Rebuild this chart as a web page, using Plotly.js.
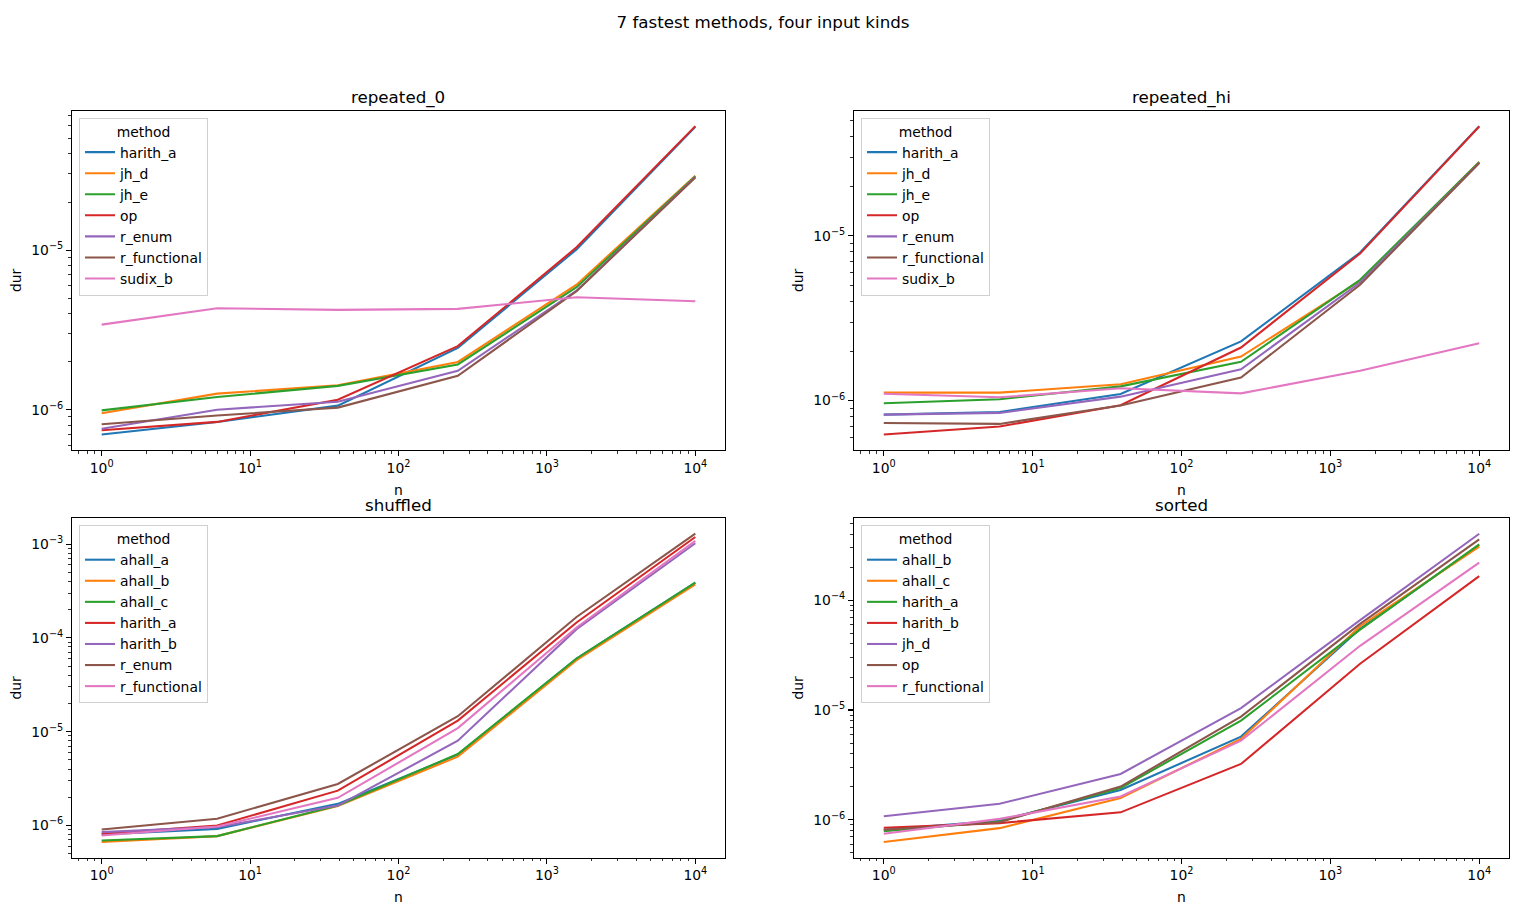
<!DOCTYPE html>
<html>
<head>
<meta charset="utf-8">
<script src="https://cdn.plot.ly/plotly-3.0.1.min.js"></script>
<style>html,body{margin:0;padding:0;background:#fff;}</style>
</head>
<body>
<div id="chart" style="width:1526px;height:915px;"></div>
<script>
// ---------------- data ----------------
const n = [1, 6, 39, 251, 1584, 10000];

const xTickVals = [1, 10, 100, 1000, 10000];
const xTickText = ['10<sup>0</sup>', '10<sup>1</sup>', '10<sup>2</sup>', '10<sup>3</sup>', '10<sup>4</sup>'];

const panelTitles = ['repeated_0', 'repeated_hi', 'shuffled', 'sorted'];

// repeated_0
const rep0Methods = ['harith_a', 'jh_d', 'jh_e', 'op', 'r_enum', 'r_functional', 'sudix_b'];
const rep0_harith_a     = [6.98e-7, 8.38e-7, 1.06e-6, 2.44e-6, 1.01e-5, 5.93e-5];
const rep0_jh_d         = [9.5e-7, 1.26e-6, 1.42e-6, 1.99e-6, 6.07e-6, 2.92e-5];
const rep0_jh_e         = [9.9e-7, 1.20e-6, 1.41e-6, 1.92e-6, 5.85e-6, 2.90e-5];
const rep0_op           = [7.43e-7, 8.38e-7, 1.155e-6, 2.50e-6, 1.04e-5, 5.98e-5];
const rep0_r_enum       = [7.6e-7, 1.00e-6, 1.12e-6, 1.75e-6, 5.57e-6, 2.87e-5];
const rep0_r_functional = [8.1e-7, 9.2e-7, 1.03e-6, 1.63e-6, 5.52e-6, 2.85e-5];
const rep0_sudix_b      = [3.41e-6, 4.32e-6, 4.22e-6, 4.28e-6, 5.06e-6, 4.78e-6];

// repeated_hi
const repHiMethods = ['harith_a', 'jh_d', 'jh_e', 'op', 'r_enum', 'r_functional', 'sudix_b'];
const repHi_harith_a     = [8.22e-7, 8.53e-7, 1.097e-6, 2.29e-6, 7.92e-6, 4.64e-5];
const repHi_jh_d         = [1.118e-6, 1.118e-6, 1.256e-6, 1.85e-6, 5.34e-6, 2.81e-5];
const repHi_jh_e         = [9.63e-7, 1.02e-6, 1.22e-6, 1.72e-6, 5.41e-6, 2.81e-5];
const repHi_op           = [6.22e-7, 6.96e-7, 9.37e-7, 2.10e-6, 7.81e-6, 4.62e-5];
const repHi_r_enum       = [8.22e-7, 8.42e-7, 1.057e-6, 1.55e-6, 5.21e-6, 2.77e-5];
const repHi_r_functional = [7.32e-7, 7.22e-7, 9.33e-7, 1.38e-6, 5.05e-6, 2.77e-5];
const repHi_sudix_b      = [1.10e-6, 1.047e-6, 1.19e-6, 1.107e-6, 1.52e-6, 2.23e-6];

// shuffled
const shufMethods = ['ahall_a', 'ahall_b', 'ahall_c', 'harith_a', 'harith_b', 'r_enum', 'r_functional'];
const shuf_ahall_a      = [8.0e-7, 9.2e-7, 1.70e-6, 5.69e-6, 6.03e-5, 3.88e-4];
const shuf_ahall_b      = [6.65e-7, 7.7e-7, 1.61e-6, 5.42e-6, 5.78e-5, 3.73e-4];
const shuf_ahall_c      = [6.92e-7, 7.7e-7, 1.63e-6, 5.78e-6, 6.03e-5, 3.88e-4];
const shuf_harith_a     = [8.16e-7, 1.00e-6, 2.35e-6, 1.31e-5, 1.46e-4, 1.19e-3];
const shuf_harith_b     = [8.49e-7, 9.6e-7, 1.63e-6, 8.0e-6, 1.24e-4, 1.02e-3];
const shuf_r_enum       = [9.07e-7, 1.18e-6, 2.77e-6, 1.46e-5, 1.67e-4, 1.29e-3];
const shuf_r_functional = [7.83e-7, 9.75e-7, 1.97e-6, 1.09e-5, 1.29e-4, 1.08e-3];

// sorted
const sortMethods = ['ahall_b', 'ahall_c', 'harith_a', 'harith_b', 'jh_d', 'op', 'r_functional'];
const sort_ahall_b      = [8.11e-7, 9.86e-7, 1.87e-6, 5.73e-6, 5.5e-5, 3.19e-4];
const sort_ahall_c      = [6.27e-7, 8.4e-7, 1.58e-6, 5.45e-6, 5.8e-5, 3.08e-4];
const sort_harith_a     = [7.88e-7, 9.66e-7, 1.95e-6, 8.0e-6, 5.4e-5, 3.23e-4];
const sort_harith_b     = [8.46e-7, 9.33e-7, 1.17e-6, 3.23e-6, 2.64e-5, 1.66e-4];
const sort_jh_d         = [1.08e-6, 1.40e-6, 2.62e-6, 1.04e-5, 6.6e-5, 4.04e-4];
const sort_op           = [8.11e-7, 9.52e-7, 2.01e-6, 8.7e-6, 6.1e-5, 3.59e-4];
const sort_r_functional = [7.46e-7, 1.02e-6, 1.63e-6, 5.26e-6, 3.85e-5, 2.2e-4];

const colors = ['#1f77b4', '#ff7f0e', '#2ca02c', '#d62728', '#9467bd', '#8c564b', '#e377c2'];

const panelMethods = [rep0Methods, repHiMethods, shufMethods, sortMethods];
const panelSeries = [
  [rep0_harith_a, rep0_jh_d, rep0_jh_e, rep0_op, rep0_r_enum, rep0_r_functional, rep0_sudix_b],
  [repHi_harith_a, repHi_jh_d, repHi_jh_e, repHi_op, repHi_r_enum, repHi_r_functional, repHi_sudix_b],
  [shuf_ahall_a, shuf_ahall_b, shuf_ahall_c, shuf_harith_a, shuf_harith_b, shuf_r_enum, shuf_r_functional],
  [sort_ahall_b, sort_ahall_c, sort_harith_a, sort_harith_b, sort_jh_d, sort_op, sort_r_functional]
];

// ---------------- layout geometry (pixels) ----------------
const W = 1526, H = 915;
const cols = [[72, 725], [854, 1509]];
const rows = [[110.7, 450], [518.3, 857.5]];
const FONT = 'DejaVu Sans, Verdana, sans-serif';

function px2x(p) { return p / W; }
function px2y(p) { return 1 - p / H; }

function sup(k) {
  const s = k < 0 ? '\u2212' + Math.abs(k) : String(k);
  return '10<sup>' + s + '</sup>';
}

const traces = [];
const layout = {
  width: W, height: H,
  margin: {l: 0, r: 0, t: 0, b: 0},
  paper_bgcolor: '#ffffff', plot_bgcolor: '#ffffff',
  font: {family: FONT, size: 13.9, color: '#000'},
  showlegend: true,
  title: {text: '7 fastest methods, four input kinds', x: 0.5, xanchor: 'center',
          y: px2y(22), yanchor: 'middle', yref: 'container',
          font: {family: FONT, size: 16.7, color: '#000'}},
  annotations: []
};

function minorVals(lo, hi) {
  const v = [];
  for (let k = Math.floor(lo) - 1; k <= Math.ceil(hi) + 1; k++) {
    for (let m = 2; m <= 9; m++) {
      const val = m * Math.pow(10, k);
      const lv = Math.log10(val);
      if (lv > lo && lv < hi) v.push(val);
    }
  }
  return v;
}

for (let p = 0; p < 4; p++) {
  const r = Math.floor(p / 2), c = p % 2;
  const idx = p + 1;
  const xa = 'xaxis' + (idx === 1 ? '' : idx);
  const ya = 'yaxis' + (idx === 1 ? '' : idx);
  const xr = 'x' + (idx === 1 ? '' : idx);
  const yr = 'y' + (idx === 1 ? '' : idx);
  const lg = 'legend' + (idx === 1 ? '' : idx);

  // y range from data with 5% log margins (like matplotlib autoscale)
  let lmin = Infinity, lmax = -Infinity;
  panelSeries[p].forEach(s => s.forEach(v => {
    const l = Math.log10(v); if (l < lmin) lmin = l; if (l > lmax) lmax = l;
  }));
  const pad = 0.05 * (lmax - lmin);
  const yRange = [lmin - pad, lmax + pad];
  const xRange = [-0.2, 4.2];

  const yTickVals = [], yTickText = [];
  for (let k = Math.ceil(yRange[0]); k <= Math.floor(yRange[1]); k++) {
    yTickVals.push(Math.pow(10, k)); yTickText.push(sup(k));
  }

  layout[xa] = {
    domain: [px2x(cols[c][0]), px2x(cols[c][1])],
    anchor: yr, type: 'log', range: xRange,
    showgrid: false, zeroline: false,
    showline: true, mirror: true, linecolor: '#000', linewidth: 1.1,
    ticks: 'outside', ticklen: 4.9, tickwidth: 1.1, tickcolor: '#000',
    tickmode: 'array', tickvals: xTickVals, ticktext: xTickText,
    tickfont: {family: FONT, size: 13.9, color: '#000'},
    minor: {tickmode: 'array', tickvals: minorVals(xRange[0], xRange[1]), ticks: 'outside',
            ticklen: 2.8, tickwidth: 0.8, tickcolor: '#000', showgrid: false},
    title: {text: 'n', standoff: 10, font: {family: FONT, size: 13.9, color: '#000'}},
    automargin: false
  };
  layout[ya] = {
    domain: [px2y(rows[r][1]), px2y(rows[r][0])],
    anchor: xr, type: 'log', range: yRange,
    showgrid: false, zeroline: false,
    showline: true, mirror: true, linecolor: '#000', linewidth: 1.1,
    ticks: 'outside', ticklen: 4.9, tickwidth: 1.1, tickcolor: '#000',
    tickmode: 'array', tickvals: yTickVals, ticktext: yTickText,
    tickfont: {family: FONT, size: 13.9, color: '#000'},
    minor: {tickmode: 'array', tickvals: minorVals(yRange[0], yRange[1]), ticks: 'outside',
            ticklen: 2.8, tickwidth: 0.8, tickcolor: '#000', showgrid: false},
    title: {text: 'dur', standoff: 6, font: {family: FONT, size: 13.9, color: '#000'}},
    automargin: false
  };

  layout[lg] = {
    x: px2x(cols[c][0] + 7), y: px2y(rows[r][0] + 6.8),
    xref: 'paper', yref: 'paper', xanchor: 'left', yanchor: 'top',
    bgcolor: 'rgba(255,255,255,0.8)', bordercolor: '#d0d0d0', borderwidth: 1,
    font: {family: FONT, size: 13.9, color: '#000'},
    title: {text: 'method', side: 'top center', font: {family: FONT, size: 13.9, color: '#000'}},
    traceorder: 'normal', tracegroupgap: 0, itemwidth: 30
  };

  layout.annotations.push({
    text: panelTitles[p], xref: 'paper', yref: 'paper',
    x: (px2x(cols[c][0]) + px2x(cols[c][1])) / 2, y: px2y(rows[r][0] - 13),
    xanchor: 'center', yanchor: 'middle', showarrow: false,
    font: {family: FONT, size: 16.7, color: '#000'}
  });

  panelMethods[p].forEach((m, i) => {
    traces.push({
      type: 'scatter', mode: 'lines', x: n, y: panelSeries[p][i], name: m,
      xaxis: xr, yaxis: yr, legend: lg,
      line: {color: colors[i], width: 2.08},
      hoverinfo: 'name+x+y'
    });
  });
}

Plotly.newPlot('chart', traces, layout, {displayModeBar: false, staticPlot: true});
</script>
</body>
</html>
